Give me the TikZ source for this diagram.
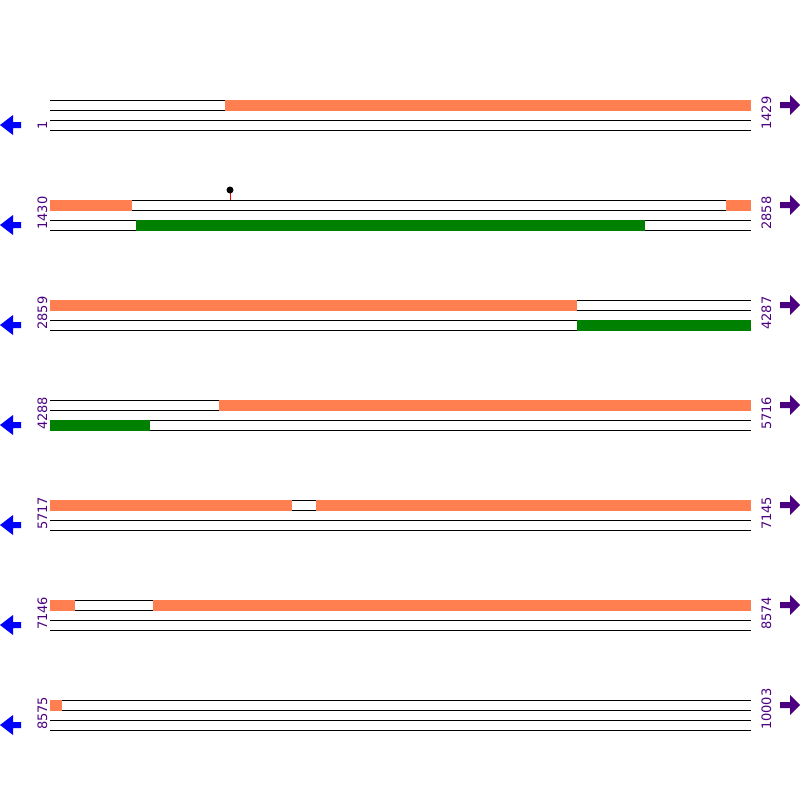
\documentclass[tikz,border=0pt]{standalone}
\usepackage{fontspec}
\setmainfont{DejaVu Sans}
\usetikzlibrary{positioning}

\definecolor{exon}{HTML}{FF7F50}
\definecolor{orf}{HTML}{008000}
\definecolor{pos}{HTML}{4B0082}

\tikzset{
  track/.style={black, line width=1pt},
  exonbar/.style={fill=exon},
  orfbar/.style={fill=orf},
  leftnum/.style={rotate=90, anchor=base west, inner sep=0pt, text=pos, font=\fontsize{13}{13}\selectfont},
  rightnum/.style={rotate=90, anchor=base west, inner sep=0pt, text=pos, font=\fontsize{13}{13}\selectfont},
  revarrow/.style={fill=blue},
  fwdarrow/.style={fill=pos}
}

\begin{document}
\begin{tikzpicture}[x=1pt, y=-1pt]
\useasboundingbox (0,0) rectangle (800,800);

% the four strands of every row
\foreach \r in {100,200,...,700} {
  \foreach \d in {0,10,20,30}
    \draw [track] (50,\r+\d) -- (751,\r+\d);
  \fill [revarrow] (0,\r+25) -- (13,\r+15) -- (13,\r+22) -- (21,\r+22) -- (21,\r+28) -- (13,\r+28) -- (13,\r+35) -- cycle;
  \fill [fwdarrow] (800,\r+5) -- (790,\r-5) -- (790,\r+2) -- (780,\r+2) -- (780,\r+8) -- (790,\r+8) -- (790,\r+15) -- cycle;
}

% row 1
\fill [exonbar] (225,99.5) rectangle (751,110.5);
\node [leftnum] (s1) at (47,130) {1};
\node [rightnum] (e1) at (771,130) {1429};

% row 2
\fill [exonbar] (50,199.5) rectangle (132,210.5);
\fill [exonbar] (726,199.5) rectangle (751,210.5);
\fill [orfbar] (136,219.5) rectangle (645,230.5);
\draw [red, line width=1pt] (230,190) -- (230,200);
\fill (230,190) circle (3.5);
\node [leftnum] (s2) at (47,230) {1430};
\node [rightnum] (e2) at (771,230) {2858};

% row 3
\fill [exonbar] (50,299.5) rectangle (577,310.5);
\fill [orfbar] (577,319.5) rectangle (751,330.5);
\node [leftnum] (s3) at (47,330) {2859};
\node [rightnum] (e3) at (771,330) {4287};

% row 4
\fill [exonbar] (219,399.5) rectangle (751,410.5);
\fill [orfbar] (50,419.5) rectangle (150,430.5);
\node [leftnum] (s4) at (47,430) {4288};
\node [rightnum] (e4) at (771,430) {5716};

% row 5
\fill [exonbar] (50,499.5) rectangle (292,510.5);
\fill [exonbar] (316,499.5) rectangle (751,510.5);
\node [leftnum] (s5) at (47,530) {5717};
\node [rightnum] (e5) at (771,530) {7145};

% row 6
\fill [exonbar] (50,599.5) rectangle (75,610.5);
\fill [exonbar] (153,599.5) rectangle (751,610.5);
\node [leftnum] (s6) at (47,630) {7146};
\node [rightnum] (e6) at (771,630) {8574};

% row 7
\fill [exonbar] (50,699.5) rectangle (62,710.5);
\node [leftnum] (s7) at (47,730) {8575};
\node [rightnum] (e7) at (771,730) {10003};
\end{tikzpicture}
\end{document}
